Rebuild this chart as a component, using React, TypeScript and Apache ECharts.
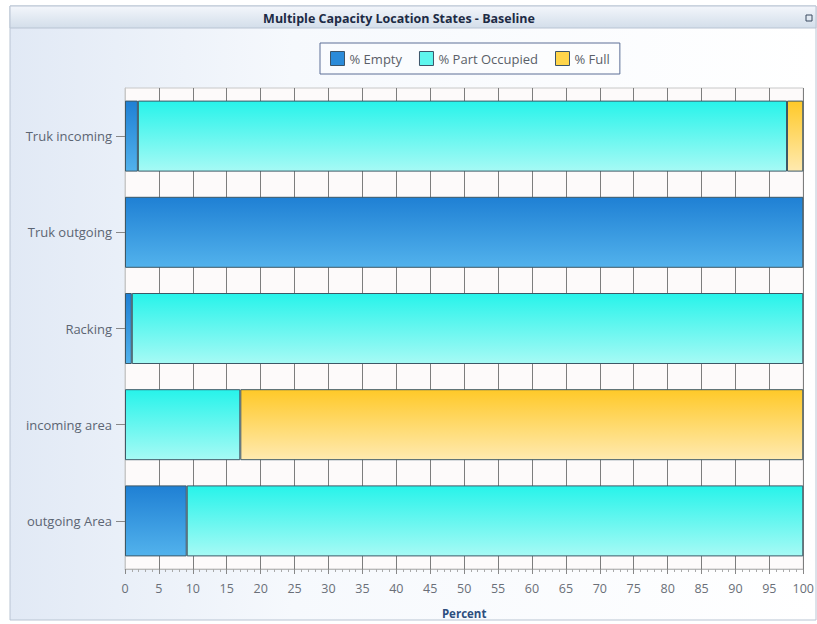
import React, { useEffect, useRef } from "react";
import * as echarts from "echarts";

const categories = ["Truk incoming", "Truk outgoing", "Racking", "incoming area", "outgoing Area"];
const seriesNames = ["% Empty", "% Part Occupied", "% Full"];
const emptyPct = [1.9, 100, 1.0, null, 9.1];
const partPct = [95.7, null, 99.0, 17.0, 90.9];
const fullPct = [2.4, null, null, 83.0, null];
const xTicks = { min: 0, max: 100, interval: 5 };
const titleText = "Multiple Capacity Location States - Baseline";
const axisName = "Percent";

const FONT = "'Open Sans', 'DejaVu Sans', sans-serif";

const grad = (a: string, b: string) =>
  new echarts.graphic.LinearGradient(0, 0, 0, 1, [
    { offset: 0, color: a },
    { offset: 1, color: b },
  ]);

export default function App() {
  const ref = useRef<HTMLDivElement>(null);
  useEffect(() => {
    if (!ref.current) return;
    const chart = echarts.init(ref.current, undefined, { renderer: "svg" });
    const colors = [
      grad("#1f80d4", "#52b2ec"),
      grad("#27f3ea", "#a6faf5"),
      grad("#ffc928", "#ffeab0"),
    ];
    const legendColors = ["#2b8bd9", "#5ef6ee", "#ffd54a"];
    const datas = [emptyPct, partPct, fullPct];
    chart.setOption({
      animation: false,
      backgroundColor: "#ffffff",
      graphic: [
        {
          type: "rect",
          z: -10,
          shape: { x: 10, y: 6, width: 806, height: 614 },
          style: {
            fill: new echarts.graphic.LinearGradient(0, 0, 1, 0, [
              { offset: 0, color: "#e1e9f5" },
              { offset: 0.35, color: "#f6f9fd" },
              { offset: 1, color: "#ffffff" },
            ]),
            stroke: "#b9c4d3",
            lineWidth: 1,
          },
        },
        {
          type: "rect",
          z: -9,
          shape: { x: 10, y: 6, width: 806, height: 22 },
          style: {
            fill: new echarts.graphic.LinearGradient(0, 0, 0, 1, [
              { offset: 0, color: "#f3f6fb" },
              { offset: 1, color: "#d3deea" },
            ]),
            stroke: "#b9c4d3",
            lineWidth: 1,
          },
        },
        {
          type: "text",
          z: 5,
          x: 399,
          y: 18,
          style: {
            text: titleText,
            fill: "#1d2b45",
            font: `bold 12.5px ${FONT}`,
            align: "center",
            verticalAlign: "middle",
          },
        },
        {
          type: "rect",
          z: 5,
          shape: { x: 806, y: 15, width: 6, height: 6 },
          style: { fill: "none", stroke: "#3a4a60", lineWidth: 1 },
        },
      ],
      legend: {
        left: 320,
        top: 43,
        orient: "horizontal",
        padding: [8, 10],
        itemWidth: 14,
        itemHeight: 14,
        itemGap: 17,
        borderColor: "#5d6f96",
        borderWidth: 1,
        backgroundColor: "rgba(255,255,255,0.35)",
        textStyle: { color: "#5a5f68", fontSize: 13, fontFamily: FONT },
        data: seriesNames.map((n, i) => ({
          name: n,
          icon: "rect",
          itemStyle: { color: legendColors[i], borderColor: "#3c5468", borderWidth: 1 },
        })),
      },
      grid: {
        left: 125,
        right: 10,
        top: 88,
        bottom: 54,
        show: true,
        backgroundColor: "#fdfafa",
        borderColor: "#c8c8c8",
        borderWidth: 1,
      },
      xAxis: {
        type: "value",
        min: xTicks.min,
        max: xTicks.max,
        interval: xTicks.interval,
        name: axisName,
        nameLocation: "middle",
        nameGap: 38,
        nameTextStyle: { color: "#2e4f7e", fontWeight: "bold", fontSize: 11.5, fontFamily: FONT },
        axisLine: { show: true, lineStyle: { color: "#b9b9b9" } },
        axisTick: { show: true, length: 5, lineStyle: { color: "#888" } },
        minorTick: { show: true, splitNumber: 5, length: 3, lineStyle: { color: "#aaa" } },
        splitLine: { show: true, lineStyle: { color: "#7d7d7d", width: 1 } },
        axisLabel: { color: "#6a6f78", fontSize: 12.5, fontFamily: FONT, margin: 13 },
      },
      yAxis: {
        type: "category",
        inverse: true,
        data: categories,
        axisLine: { show: true, lineStyle: { color: "#c8c8c8" } },
        axisTick: { show: true, alignWithLabel: true, length: 9, lineStyle: { color: "#888" } },
        axisLabel: { color: "#5c6573", fontSize: 13, fontFamily: FONT, margin: 13 },
        splitLine: { show: false },
      },
      series: seriesNames.map((n, i) => ({
        name: n,
        type: "bar",
        stack: "total",
        barWidth: 71,
        data: datas[i],
        itemStyle: { color: colors[i], borderColor: "#3d5866", borderWidth: 1 },
        emphasis: { disabled: true },
      })),
    });
    return () => chart.dispose();
  }, []);
  return (
    <div
      ref={ref}
      style={{ position: "fixed", left: 0, top: 0, width: 817, height: 624 }}
    />
  );
}
